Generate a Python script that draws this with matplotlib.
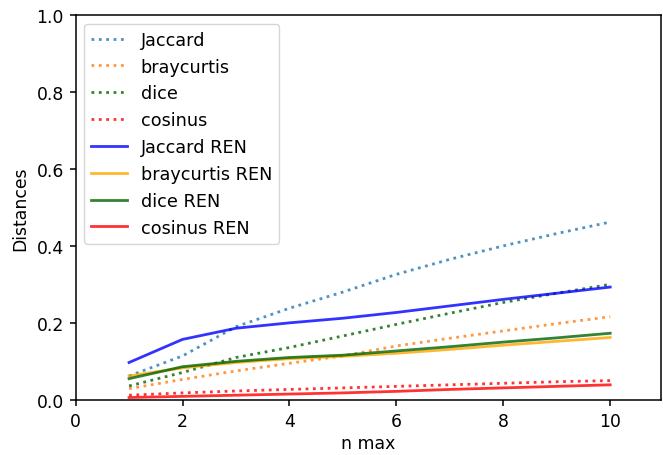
import matplotlib
matplotlib.use("Agg")
import matplotlib.pyplot as plt

# ── Data ───────────────────────────────────────────────────
n_max = [1, 2, 3, 4, 5, 6, 7, 8, 9, 10]

jaccard     = [0.062, 0.114, 0.190, 0.238, 0.280, 0.326, 0.365, 0.400, 0.432, 0.462]
braycurtis  = [0.029, 0.053, 0.075, 0.095, 0.114, 0.140, 0.160, 0.179, 0.198, 0.216]
dice        = [0.036, 0.071, 0.110, 0.136, 0.166, 0.196, 0.225, 0.253, 0.277, 0.300]
cosinus     = [0.012, 0.018, 0.023, 0.027, 0.031, 0.035, 0.039, 0.043, 0.047, 0.050]

jaccard_ren    = [0.097, 0.157, 0.186, 0.200, 0.212, 0.227, 0.244, 0.261, 0.277, 0.293]
braycurtis_ren = [0.062, 0.083, 0.097, 0.107, 0.113, 0.121, 0.131, 0.142, 0.152, 0.162]
dice_ren       = [0.055, 0.086, 0.100, 0.110, 0.116, 0.127, 0.138, 0.150, 0.161, 0.173]
cosinus_ren    = [0.006, 0.009, 0.012, 0.015, 0.018, 0.022, 0.027, 0.031, 0.035, 0.039]

# ── Plot ───────────────────────────────────────────────────
fs = 12.4
fig, ax = plt.subplots(figsize=(6.63, 4.56), dpi=100)

ax.plot(n_max, jaccard,    ':', color='tab:blue',   alpha=0.8, lw=2, label='Jaccard')
ax.plot(n_max, braycurtis, ':', color='tab:orange', alpha=0.8, lw=2, label='braycurtis')
ax.plot(n_max, dice,       ':', color='darkgreen',  alpha=0.8, lw=2, label='dice')
ax.plot(n_max, cosinus,    ':', color='red',        alpha=0.8, lw=2, label='cosinus')

ax.plot(n_max, jaccard_ren,    '-', color='blue',      alpha=0.8, lw=2, label='Jaccard REN')
ax.plot(n_max, braycurtis_ren, '-', color='orange',    alpha=0.8, lw=2, label='braycurtis REN')
ax.plot(n_max, dice_ren,       '-', color='darkgreen', alpha=0.8, lw=2, label='dice REN')
ax.plot(n_max, cosinus_ren,    '-', color='red',       alpha=0.8, lw=2, label='cosinus REN')

ax.set_xlim(0, 10.95)
ax.set_ylim(0, 1.0)
ax.set_xlabel('n max', fontsize=fs, labelpad=3)
ax.set_ylabel('Distances', fontsize=fs, labelpad=5)
ax.tick_params(labelsize=fs, length=4.5, width=1.1, pad=4)
for sp in ax.spines.values():
    sp.set_linewidth(1.1)
ax.legend(loc='upper left', fontsize=12.7, handlelength=2.0, labelspacing=0.5)

fig.subplots_adjust(left=0.114, right=0.997, bottom=0.121, top=0.965)
plt.savefig('out.png', dpi=100)
